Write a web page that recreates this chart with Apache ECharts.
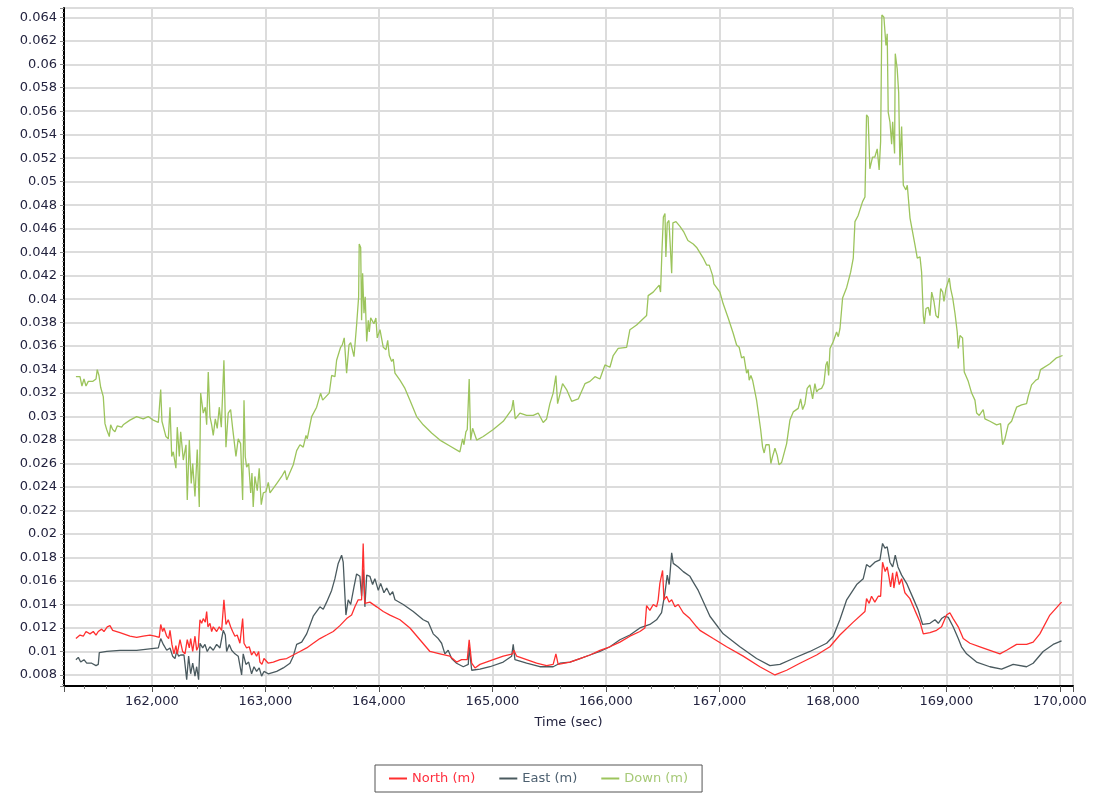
<!DOCTYPE html>
<html><head><meta charset="utf-8">
<script src="https://cdn.jsdelivr.net/npm/echarts@6/dist/echarts.min.js"></script>
<style>html,body{margin:0;padding:0;background:#fff}#c{width:1095px;height:794px}</style>
</head><body><div id="c"></div>
<script>
// Time axis tick labels / range (seconds)
const xTicks = [162000,163000,164000,165000,166000,167000,168000,169000,170000];
const seriesNames = ['North (m)', 'East (m)', 'Down (m)'];

// [time (sec), value (m)]
const northSeries = [[161330,0.0111],[161366,0.0114],[161395,0.0113],[161419,0.0117],[161454,0.0115],[161483,0.0117],[161507,0.0114],[161527,0.0117],[161557,0.0119],[161577,0.0117],[161606,0.0121],[161630,0.0122],[161654,0.0118],[161718,0.0116],[161806,0.0113],[161865,0.0112],[161923,0.0113],[161982,0.0114],[162026,0.0113],[162064,0.0112],[162077,0.0123],[162094,0.0117],[162106,0.0120],[162130,0.0113],[162147,0.0111],[162159,0.0118],[162176,0.0106],[162194,0.0098],[162211,0.0105],[162223,0.0098],[162247,0.0110],[162270,0.0100],[162291,0.0098],[162311,0.0110],[162329,0.0103],[162341,0.0111],[162359,0.0100],[162379,0.0113],[162394,0.0101],[162408,0.0104],[162423,0.0127],[162438,0.0124],[162452,0.0128],[162470,0.0125],[162482,0.0134],[162493,0.0121],[162511,0.0124],[162526,0.0117],[162540,0.0121],[162570,0.0117],[162593,0.0121],[162614,0.0118],[162634,0.0144],[162652,0.0123],[162672,0.0127],[162693,0.0121],[162711,0.0117],[162731,0.0113],[162751,0.0114],[162775,0.0107],[162799,0.0128],[162811,0.0107],[162834,0.0103],[162857,0.0104],[162878,0.0097],[162899,0.0100],[162922,0.0096],[162940,0.0100],[162951,0.0091],[162969,0.0089],[162987,0.0094],[163025,0.0090],[163069,0.0091],[163128,0.0093],[163187,0.0094],[163245,0.0097],[163304,0.0100],[163363,0.0103],[163421,0.0107],[163480,0.0111],[163539,0.0114],[163597,0.0117],[163656,0.0122],[163715,0.0128],[163759,0.0131],[163788,0.0138],[163817,0.0144],[163847,0.0144],[163861,0.0192],[163876,0.0141],[163920,0.0142],[163980,0.0138],[164038,0.0134],[164097,0.0131],[164185,0.0127],[164273,0.0120],[164361,0.0110],[164449,0.0100],[164537,0.0098],[164625,0.0096],[164684,0.0091],[164728,0.0093],[164778,0.0093],[164795,0.0110],[164817,0.0090],[164846,0.0086],[164890,0.0089],[165007,0.0093],[165095,0.0096],[165178,0.0098],[165189,0.0101],[165213,0.0096],[165301,0.0093],[165389,0.0090],[165477,0.0088],[165535,0.0089],[165559,0.0098],[165579,0.0089],[165683,0.0091],[165771,0.0094],[165859,0.0097],[165947,0.0101],[166035,0.0104],[166123,0.0108],[166211,0.0113],[166299,0.0117],[166343,0.0120],[166358,0.0139],[166387,0.0135],[166417,0.0140],[166446,0.0138],[166460,0.0144],[166475,0.0158],[166499,0.0169],[166511,0.0144],[166534,0.0147],[166557,0.0142],[166579,0.0144],[166608,0.0138],[166637,0.0140],[166681,0.0133],[166740,0.0128],[166799,0.0121],[166828,0.0118],[166945,0.0111],[167063,0.0104],[167209,0.0096],[167356,0.0087],[167489,0.0080],[167592,0.0084],[167709,0.0090],[167856,0.0097],[167973,0.0104],[168061,0.0114],[168179,0.0125],[168282,0.0134],[168296,0.0145],[168319,0.0141],[168340,0.0147],[168369,0.0142],[168399,0.0147],[168420,0.0147],[168437,0.0176],[168460,0.0168],[168478,0.0172],[168496,0.0162],[168508,0.0155],[168526,0.0167],[168537,0.0154],[168561,0.0168],[168584,0.0157],[168605,0.0162],[168634,0.0150],[168678,0.0145],[168722,0.0135],[168767,0.0125],[168796,0.0115],[168855,0.0116],[168913,0.0118],[168957,0.0121],[169001,0.0131],[169030,0.0133],[169059,0.0128],[169104,0.0121],[169148,0.0111],[169207,0.0107],[169295,0.0104],[169383,0.0101],[169471,0.0098],[169530,0.0101],[169618,0.0106],[169706,0.0106],[169764,0.0108],[169823,0.0115],[169911,0.0131],[170014,0.0142]];

const eastSeries = [[161330,0.0093],[161351,0.0095],[161372,0.0091],[161401,0.0093],[161425,0.0090],[161469,0.0090],[161507,0.0088],[161527,0.0089],[161536,0.0099],[161601,0.0100],[161718,0.0101],[161865,0.0101],[162056,0.0103],[162077,0.0111],[162100,0.0106],[162130,0.0101],[162159,0.0103],[162182,0.0096],[162203,0.0094],[162218,0.0100],[162235,0.0096],[162253,0.0097],[162282,0.0097],[162306,0.0076],[162323,0.0096],[162341,0.0081],[162359,0.0090],[162379,0.0079],[162394,0.0087],[162411,0.0076],[162423,0.0107],[162447,0.0103],[162467,0.0106],[162487,0.0100],[162511,0.0104],[162540,0.0101],[162570,0.0106],[162599,0.0103],[162628,0.0118],[162646,0.0114],[162658,0.0100],[162681,0.0106],[162702,0.0101],[162731,0.0098],[162760,0.0096],[162790,0.0080],[162804,0.0098],[162828,0.0089],[162852,0.0091],[162878,0.0081],[162899,0.0087],[162922,0.0083],[162945,0.0086],[162966,0.0079],[162987,0.0083],[163025,0.0081],[163099,0.0083],[163157,0.0086],[163216,0.0090],[163245,0.0096],[163275,0.0106],[163319,0.0108],[163363,0.0115],[163421,0.0130],[163480,0.0138],[163509,0.0136],[163539,0.0142],[163583,0.0152],[163612,0.0162],[163641,0.0175],[163671,0.0182],[163685,0.0176],[163709,0.0131],[163729,0.0144],[163751,0.0140],[163780,0.0155],[163803,0.0166],[163832,0.0164],[163847,0.0147],[163861,0.0170],[163876,0.0138],[163892,0.0165],[163920,0.0164],[163944,0.0157],[163964,0.0162],[163994,0.0152],[164015,0.0158],[164044,0.0150],[164068,0.0154],[164097,0.0148],[164121,0.0151],[164141,0.0144],[164214,0.0140],[164302,0.0134],[164390,0.0127],[164434,0.0125],[164478,0.0115],[164522,0.0111],[164552,0.0107],[164581,0.0098],[164610,0.0101],[164640,0.0094],[164684,0.0090],[164743,0.0087],[164787,0.0089],[164795,0.0104],[164817,0.0084],[164890,0.0085],[164978,0.0087],[165095,0.0091],[165169,0.0096],[165183,0.0106],[165198,0.0093],[165301,0.0090],[165418,0.0087],[165535,0.0087],[165594,0.0090],[165683,0.0091],[165771,0.0094],[165859,0.0097],[165947,0.0100],[166035,0.0104],[166123,0.0110],[166211,0.0114],[166299,0.0120],[166387,0.0123],[166446,0.0127],[166490,0.0133],[166520,0.0150],[166540,0.0165],[166557,0.0157],[166579,0.0184],[166593,0.0175],[166637,0.0172],[166681,0.0168],[166740,0.0164],[166769,0.0159],[166813,0.0152],[166916,0.0130],[167033,0.0115],[167180,0.0104],[167327,0.0094],[167445,0.0088],[167533,0.0089],[167650,0.0094],[167797,0.0100],[167944,0.0107],[168003,0.0113],[168061,0.0127],[168121,0.0144],[168209,0.0157],[168267,0.0162],[168296,0.0174],[168325,0.0172],[168369,0.0176],[168414,0.0178],[168437,0.0192],[168458,0.0188],[168478,0.0189],[168502,0.0176],[168526,0.0172],[168549,0.0182],[168573,0.0172],[168605,0.0165],[168649,0.0158],[168708,0.0145],[168752,0.0135],[168790,0.0123],[168855,0.0124],[168899,0.0127],[168928,0.0124],[168957,0.0128],[168987,0.0130],[169016,0.0129],[169059,0.0121],[169104,0.0111],[169133,0.0104],[169177,0.0098],[169265,0.0091],[169383,0.0087],[169486,0.0085],[169588,0.0089],[169706,0.0087],[169764,0.0090],[169852,0.0100],[169940,0.0106],[170014,0.0109]];

const downSeries = [[161330,0.0334],[161366,0.0334],[161383,0.0326],[161401,0.0332],[161419,0.0326],[161439,0.0330],[161480,0.0330],[161507,0.0332],[161518,0.0340],[161533,0.0335],[161548,0.0325],[161571,0.0317],[161586,0.0294],[161601,0.0289],[161624,0.0283],[161636,0.0293],[161654,0.0289],[161674,0.0287],[161694,0.0292],[161733,0.0291],[161747,0.0293],[161806,0.0297],[161865,0.0300],[161923,0.0298],[161967,0.0300],[162011,0.0297],[162056,0.0295],[162077,0.0323],[162088,0.0296],[162123,0.0283],[162144,0.0281],[162159,0.0308],[162174,0.0266],[162188,0.0270],[162211,0.0256],[162223,0.0291],[162241,0.0266],[162253,0.0287],[162276,0.0263],[162300,0.0276],[162311,0.0229],[162329,0.0280],[162346,0.0243],[162359,0.0260],[162379,0.0232],[162399,0.0272],[162417,0.0223],[162429,0.0320],[162452,0.0303],[162470,0.0308],[162482,0.0293],[162496,0.0338],[162511,0.0300],[162526,0.0293],[162540,0.0284],[162558,0.0298],[162575,0.0290],[162593,0.0308],[162611,0.0291],[162634,0.0348],[162652,0.0274],[162672,0.0303],[162693,0.0306],[162711,0.0290],[162722,0.0281],[162740,0.0266],[162760,0.0281],[162781,0.0277],[162799,0.0229],[162811,0.0314],[162822,0.0266],[162834,0.0257],[162852,0.0260],[162870,0.0235],[162881,0.0252],[162892,0.0223],[162907,0.0249],[162928,0.0237],[162945,0.0256],[162963,0.0225],[162981,0.0235],[163004,0.0236],[163025,0.0244],[163040,0.0235],[163099,0.0243],[163143,0.0249],[163172,0.0254],[163187,0.0246],[163245,0.0259],[163275,0.0271],[163304,0.0276],[163333,0.0274],[163357,0.0284],[163368,0.0281],[163407,0.0300],[163451,0.0308],[163486,0.0320],[163504,0.0314],[163562,0.0320],[163583,0.0335],[163612,0.0334],[163627,0.0348],[163662,0.0359],[163677,0.0361],[163694,0.0367],[163703,0.0354],[163715,0.0337],[163736,0.0361],[163751,0.0363],[163765,0.0364],[163780,0.0351],[163803,0.0378],[163821,0.0402],[163826,0.0447],[163839,0.0444],[163847,0.0382],[163856,0.0422],[163868,0.0388],[163879,0.0402],[163892,0.0364],[163906,0.0382],[163915,0.0372],[163927,0.0384],[163944,0.0384],[163956,0.0379],[163973,0.0384],[163985,0.0367],[164009,0.0374],[164024,0.0375],[164038,0.0359],[164062,0.0357],[164077,0.0365],[164091,0.0352],[164112,0.0347],[164126,0.0349],[164141,0.0337],[164185,0.0331],[164229,0.0324],[164273,0.0314],[164332,0.0300],[164390,0.0293],[164464,0.0286],[164537,0.0280],[164625,0.0275],[164713,0.0270],[164737,0.0281],[164749,0.0276],[164766,0.0287],[164778,0.0289],[164795,0.0332],[164808,0.0280],[164825,0.0290],[164861,0.0280],[164919,0.0283],[165007,0.0289],[165095,0.0296],[165169,0.0306],[165183,0.0314],[165201,0.0298],[165242,0.0303],[165301,0.0301],[165359,0.0301],[165403,0.0303],[165447,0.0295],[165477,0.0298],[165506,0.0311],[165535,0.0320],[165559,0.0335],[165574,0.0311],[165618,0.0328],[165653,0.0323],[165698,0.0313],[165756,0.0315],[165815,0.0328],[165859,0.0330],[165903,0.0334],[165947,0.0332],[165991,0.0344],[166035,0.0342],[166064,0.0352],[166108,0.0358],[166182,0.0359],[166211,0.0374],[166270,0.0378],[166358,0.0386],[166372,0.0403],[166416,0.0406],[166469,0.0412],[166481,0.0406],[166493,0.0440],[166506,0.0470],[166520,0.0473],[166528,0.0436],[166540,0.0465],[166555,0.0467],[166579,0.0422],[166590,0.0465],[166617,0.0466],[166652,0.0462],[166687,0.0457],[166722,0.0450],[166769,0.0447],[166799,0.0444],[166857,0.0435],[166887,0.0429],[166910,0.0429],[166940,0.0420],[166951,0.0413],[167004,0.0406],[167033,0.0396],[167077,0.0384],[167121,0.0371],[167151,0.0361],[167174,0.0359],[167195,0.0350],[167216,0.0351],[167239,0.0337],[167253,0.0340],[167262,0.0331],[167277,0.0335],[167292,0.0331],[167327,0.0314],[167363,0.0289],[167380,0.0274],[167394,0.0269],[167409,0.0276],[167438,0.0276],[167453,0.0260],[167468,0.0266],[167489,0.0273],[167509,0.0267],[167524,0.0259],[167548,0.0261],[167592,0.0277],[167621,0.0297],[167650,0.0304],[167694,0.0307],[167715,0.0315],[167733,0.0306],[167753,0.0311],[167773,0.0324],[167797,0.0327],[167821,0.0315],[167841,0.0328],[167856,0.0321],[167871,0.0323],[167900,0.0324],[167920,0.0328],[167938,0.0344],[167950,0.0347],[167962,0.0335],[167974,0.0358],[168003,0.0364],[168032,0.0372],[168047,0.0368],[168062,0.0375],[168085,0.0401],[168121,0.0410],[168156,0.0423],[168179,0.0435],[168194,0.0466],[168221,0.0471],[168261,0.0483],[168282,0.0487],[168296,0.0557],[168310,0.0555],[168325,0.0511],[168349,0.0521],[168369,0.0521],[168390,0.0528],[168407,0.0510],[168420,0.0534],[168431,0.0642],[168449,0.0640],[168467,0.0616],[168478,0.0626],[168487,0.0559],[168502,0.0551],[168517,0.0532],[168526,0.0551],[168543,0.0524],[168549,0.0609],[168566,0.0596],[168579,0.0576],[168590,0.0514],[168605,0.0547],[168620,0.0497],[168643,0.0493],[168655,0.0497],[168679,0.0469],[168723,0.0446],[168743,0.0435],[168767,0.0436],[168781,0.0423],[168796,0.0386],[168805,0.0379],[168820,0.0392],[168840,0.0393],[168855,0.0386],[168870,0.0406],[168890,0.0398],[168908,0.0386],[168928,0.0384],[168949,0.0409],[168967,0.0406],[168978,0.0398],[168996,0.0409],[169025,0.0418],[169037,0.0409],[169055,0.0401],[169075,0.0388],[169095,0.0372],[169104,0.0358],[169119,0.0369],[169142,0.0367],[169157,0.0338],[169192,0.0330],[169222,0.0320],[169251,0.0314],[169266,0.0303],[169289,0.0301],[169310,0.0304],[169324,0.0306],[169339,0.0298],[169383,0.0296],[169442,0.0293],[169477,0.0294],[169495,0.0276],[169515,0.0281],[169544,0.0293],[169574,0.0296],[169618,0.0308],[169662,0.0310],[169706,0.0311],[169720,0.0317],[169750,0.0327],[169788,0.0331],[169808,0.0332],[169829,0.0340],[169911,0.0345],[169970,0.0350],[170023,0.0352]];

const X_MIN = 161225, X_MAX = 170115, X_STEP = 1000;
const Y_MIN = 0.00706, Y_MAX = 0.06479, Y_STEP = 0.002;

const FONT = '"DejaVu Sans", Verdana, sans-serif';
const TXT = '#23233f';
const COLORS = ['#ff2f2f', '#4a5a5f', '#9cc45c'];
const LEGEND_TEXT = ['#ff2f3f', '#4d6070', '#a6c977'];

const onStep = (v, step) => Math.abs(v / step - Math.round(v / step)) < 1e-6;

const chart = echarts.init(document.getElementById('c'), null, {renderer: 'canvas'});
chart.setOption({
  animation: false,
  backgroundColor: '#ffffff',
  textStyle: {fontFamily: FONT},
  grid: {left: 64, right: 22, top: 8, bottom: 108, show: true, borderColor: '#8a8a8a', borderWidth: 1, containLabel: false},
  legend: {
    left: 375, bottom: 2,
    icon: 'rect',
    data: seriesNames.map((n, i) => ({name: n, icon: 'rect', textStyle: {color: LEGEND_TEXT[i]}})),
    itemWidth: 18, itemHeight: 2, itemGap: 24,
    borderColor: '#555', borderWidth: 1, padding: [7, 14],
    textStyle: {fontFamily: FONT, fontSize: 13}
  },
  xAxis: {
    type: 'value', min: X_MIN, max: X_MAX, splitNumber: 9,
    name: 'Time (sec)', nameLocation: 'middle', nameGap: 30,
    nameTextStyle: {color: TXT, fontSize: 13, fontFamily: FONT},
    axisLine: {show: true, onZero: false, lineStyle: {color: '#000', width: 2}},
    axisTick: {show: true, length: 6, lineStyle: {color: '#555'}},
    minorTick: {show: true, splitNumber: 5, length: 3, lineStyle: {color: '#777'}},
    splitLine: {show: true, lineStyle: {color: '#dcdcdc', width: 2}},
    axisLabel: {color: TXT, fontSize: 13, fontFamily: FONT, margin: 9,
      formatter: v => onStep(v, X_STEP) && xTicks.includes(Math.round(v)) ? Math.round(v).toLocaleString('en-US') : ''}
  },
  yAxis: {
    type: 'value', min: Y_MIN, max: Y_MAX, splitNumber: 29,
    axisLine: {show: true, onZero: false, lineStyle: {color: '#000', width: 2}},
    axisTick: {show: true, length: 4, lineStyle: {color: '#888'}},
    minorTick: {show: true, splitNumber: 5, length: 2, lineStyle: {color: '#999'}},
    splitLine: {show: true, lineStyle: {color: '#dcdcdc', width: 2}},
    axisLabel: {color: TXT, fontSize: 13, fontFamily: FONT, margin: 7,
      formatter: v => onStep(v, Y_STEP) ? String(+v.toFixed(3)) : ''}
  },
  series: [northSeries, eastSeries, downSeries].map((d, i) => ({
    name: seriesNames[i], type: 'line', data: d, symbol: 'none', showSymbol: false,
    lineStyle: {color: COLORS[i], width: 1.3}, itemStyle: {color: COLORS[i]},
    z: 3 - i
  }))
});
</script>
</body></html>
